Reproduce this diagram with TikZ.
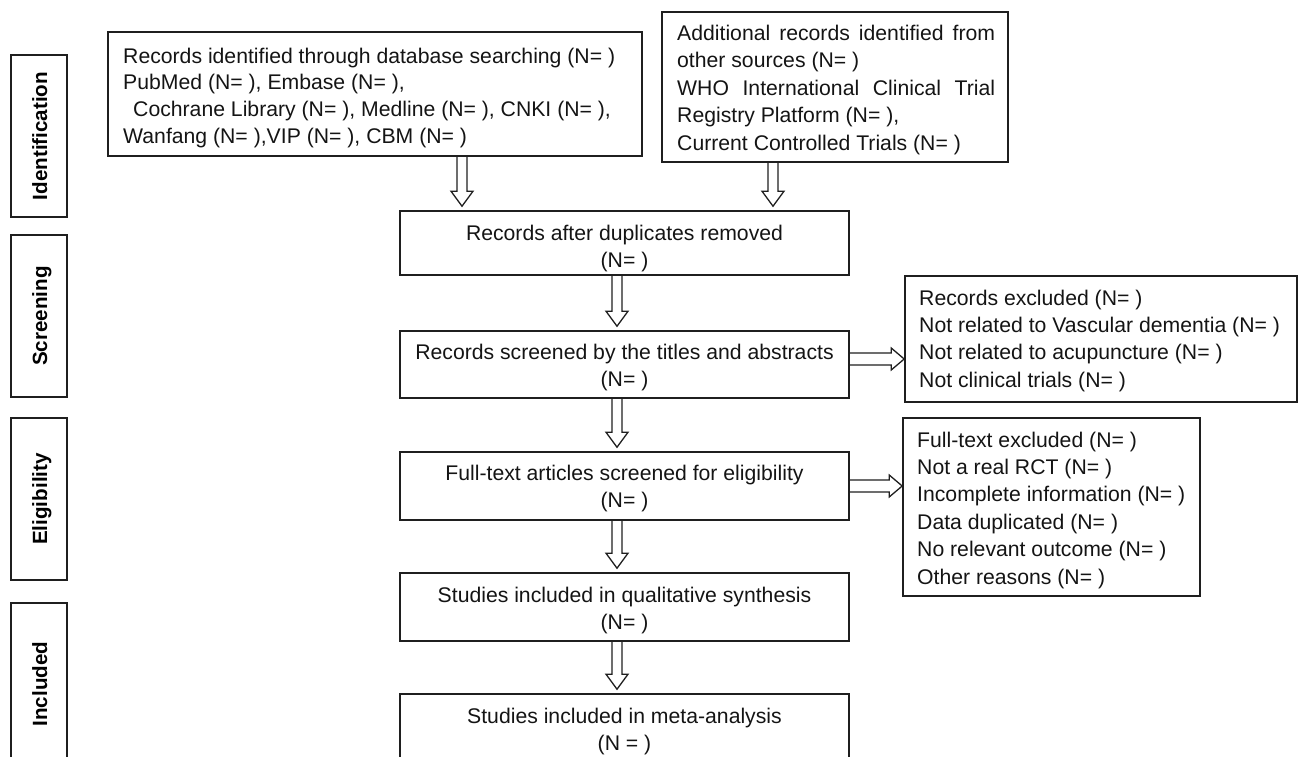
\documentclass[tikz,border=0pt]{standalone}
\usepackage{fontspec}
\setmainfont{Liberation Sans}
\usetikzlibrary{calc}
\begin{document}
\begin{tikzpicture}[x=1pt,y=-1pt,
  box/.style={draw=black!88, line width=1.6pt, inner sep=0pt},
  stagebox/.style={box, minimum width=56pt, minimum height=162pt},
  stagelabel/.style={font=\fontsize{20.6}{24}\selectfont\bfseries, rotate=90, anchor=base, inner sep=0pt, text=black},
  txt/.style={inner sep=0pt, text=black!92},
  ctxt/.style={txt, align=center, anchor=north, font=\fontsize{21.2}{27}\selectfont},
  ltxt/.style={txt, align=left, anchor=north west},
  varrow/.style={draw=black!88, line width=1.3pt, line join=miter,
    to path={let \p1=(\tikztostart), \p2=(\tikztotarget) in
      (\x1-5pt,\y1) -- (\x1-5pt,\y2+19pt) -- (\x1-11pt,\y2+19pt) -- (\x1,\y2+4pt)
      -- (\x1+11pt,\y2+19pt) -- (\x1+5pt,\y2+19pt) -- (\x1+5pt,\y1)}},
  harrow/.style={draw=black!88, line width=1.3pt, line join=miter,
    to path={let \p1=(\tikztostart), \p2=(\tikztotarget) in
      (\x1,\y1+6pt) -- (\x2-13pt,\y1+6pt) -- (\x2-13pt,\y1+11pt) -- (\x2,\y1)
      -- (\x2-13pt,\y1-11pt) -- (\x2-13pt,\y1-6pt) -- (\x1,\y1-6pt)}}
]
\useasboundingbox (0,0) rectangle (1299,756);

% stage labels
\node[stagebox] (sid) at (39,136) {};
\node[stagelabel] (lid) at (47,136) {Identification};
\node[stagebox] (sscr) at (39,316) {};
\node[stagelabel] (lscr) at (47,316) {Screening};
\node[stagebox] (self) at (39,499) {};
\node[stagelabel] (lel) at (47,499) {Eligibility};
\node[stagebox] (sinc) at (39,684) {};
\node[stagelabel] (linc) at (47,684) {Included};

% boxes
\node[box, minimum width=534pt, minimum height=124pt] (tl) at (375,94) {};
\node[box, minimum width=346pt, minimum height=150pt] (tr) at (835,87) {};
\node[box, minimum width=449pt, minimum height=64pt] (dup) at (624.5,243) {};
\node[box, minimum width=449pt, minimum height=67pt] (scr) at (624.5,364.5) {};
\node[box, minimum width=449pt, minimum height=68pt] (full) at (624.5,486) {};
\node[box, minimum width=449pt, minimum height=68pt] (qual) at (624.5,607) {};
\node[box, minimum width=449pt, minimum height=68pt] (meta) at (624.5,728) {};
\node[box, minimum width=392pt, minimum height=126pt] (ex1) at (1101,339) {};
\node[box, minimum width=297pt, minimum height=178pt] (ex2) at (1051.5,507) {};

% texts
\node[ltxt, font=\fontsize{21.2}{26.7}\selectfont] (ttl) at (123,47.6) {Records identified through database searching (N= )\\
PubMed (N= ), Embase (N= ),\\
\hspace*{10pt}Cochrane Library (N= ), Medline (N= ), CNKI (N= ),\\
Wanfang (N= ),VIP (N= ), CBM (N= )};
\node[ltxt, font=\fontsize{21.2}{27.5}\selectfont] (ttr) at (677,24.6) {\makebox[318pt][s]{Additional records identified from}\\
other sources (N= )\\
\makebox[318pt][s]{WHO International Clinical Trial}\\
Registry Platform (N= ),\\
Current Controlled Trials (N= )};
\node[ctxt] (tdup) at (624.5,224.6) {Records after duplicates removed\\(N= )};
\node[ctxt] (tscr) at (624.5,343.6) {Records screened by the titles and abstracts\\(N= )};
\node[ctxt] (tfull) at (624.5,464.6) {Full-text articles screened for eligibility\\(N= )};
\node[ctxt] (tqual) at (624.5,586.6) {Studies included in qualitative synthesis\\(N= )};
\node[ctxt] (tmeta) at (624.5,707.6) {Studies included in meta-analysis\\(N = )};
\node[ltxt, font=\fontsize{21.2}{27.3}\selectfont] (tex1) at (919,289.6) {Records excluded (N= )\\
Not related to Vascular dementia (N= )\\
Not related to acupuncture (N= )\\
Not clinical trials (N= )};
\node[ltxt, font=\fontsize{21.2}{27.4}\selectfont] (tex2) at (917,431.6) {Full-text excluded (N= )\\
Not a real RCT (N= )\\
Incomplete information (N= )\\
Data duplicated (N= )\\
No relevant outcome (N= )\\
Other reasons (N= )};

% arrow anchors
\coordinate (a1) at ([xshift=87pt]tl.south);
\coordinate (a2) at ([xshift=-62pt]tr.south);
\coordinate (a3) at ([xshift=-7.5pt]dup.south);
\coordinate (a4) at ([xshift=-7.5pt]scr.south);
\coordinate (a5) at ([xshift=-7.5pt]full.south);
\coordinate (a6) at ([xshift=-7.5pt]qual.south);
\coordinate (h1) at ([yshift=5.5pt]scr.east);
\coordinate (h2) at (full.east);

\draw[varrow] (a1) to (dup.north);
\draw[varrow] (a2) to (dup.north);
\draw[varrow] (a3) to (scr.north);
\draw[varrow] (a4) to (full.north);
\draw[varrow] (a5) to (qual.north);
\draw[varrow] (a6) to (meta.north);
\draw[harrow] (h1) to (ex1.west);
\draw[harrow] (h2) to (ex2.west);
\end{tikzpicture}
\end{document}
